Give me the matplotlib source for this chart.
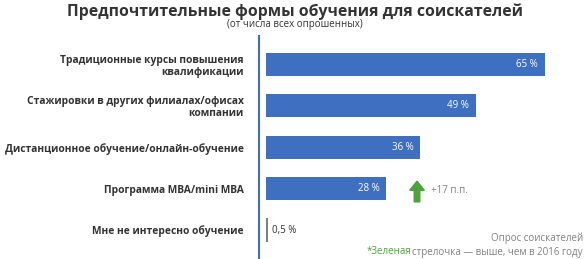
import matplotlib.pyplot as plt
from matplotlib.patches import FancyArrow

plt.rcParams['font.family'] = ['Open Sans', 'DejaVu Sans']

categories = [
    "Традиционные курсы повышения\nквалификации",
    "Стажировки в других филиалах/офисах\nкомпании",
    "Дистанционное обучение/онлайн-обучение",
    "Программа MBA/mini MBA",
    "Мне не интересно обучение",
]
values = [65, 49, 36, 28, 0.5]
value_labels = ["65 %", "49 %", "36 %", "28 %", "0,5 %"]
change_label = "+17 п.п."
change_index = 3

BLUE = "#3f6fc0"
GRAY = "#808080"
DARK = "#333333"
GREEN = "#4ea23a"

W, H = 588, 259
fig = plt.figure(figsize=(W / 100, H / 100), dpi=100)

# axes: left spine is the blue vertical line at x=259 px
ax = fig.add_axes([259 / W, 0, (W - 259) / W, (259 - 36) / H])
px_per_pct = 4.29
ax.set_xlim(-7 / px_per_pct, (W - 266) / px_per_pct)
step = 41.4
ax.set_ylim(4 + 29 / step, -28.5 / step)

for i, (v, lab) in enumerate(zip(values, value_labels)):
    if v >= 1:
        ax.barh(i, v, height=0.56, color=BLUE, edgecolor="none")
        ax.text(v - 1.6, i, lab, color="white", fontsize=7, ha="right", va="center")
    else:
        ax.barh(i, v, height=0.58, color=GRAY, edgecolor="none")
        ax.text(v + 0.9, i, lab, color=DARK, fontsize=7, ha="left", va="center")

for s in ["top", "right", "bottom"]:
    ax.spines[s].set_visible(False)
ax.spines["left"].set_color(BLUE)
ax.spines["left"].set_linewidth(1.5)
ax.set_xticks([])
ax.set_yticks(range(len(categories)))
ax.set_yticklabels(categories, fontsize=7.4, fontweight="bold", color=DARK,
                   linespacing=1.1)
ax.tick_params(axis="y", length=0, pad=11)

# green arrow next to MBA bar
ax.add_patch(FancyArrow(values[change_index] + 7.2, change_index + 0.32, 0, -0.5,
                        width=1.3, head_width=3.4, head_length=0.22,
                        color=GREEN, length_includes_head=True))
ax.text(values[change_index] + 10.4, change_index + 0.05, change_label,
        color=GRAY, fontsize=7, ha="left", va="center")

fig.text(295 / W, 1 - 12 / H, "Предпочтительные формы обучения для соискателей",
         ha="center", va="center", fontsize=11.3, fontweight="bold", color=DARK)
fig.text(295 / W, 1 - 25 / H, "(от числа всех опрошенных)",
         ha="center", va="center", fontsize=7, color=DARK)

fig.text(583 / W, 1 - 238 / H, "Опрос соискателей",
         ha="right", va="center", fontsize=7, color=GRAY)
foot = fig.text(583 / W, 1 - 252 / H, "стрелочка — выше, чем в 2016 году",
                ha="right", va="center", fontsize=7, color=GRAY)
fig.canvas.draw()
bb = foot.get_window_extent()
fig.text((bb.x0 - 1) / W, 1 - 252 / H, "*Зеленая", ha="right", va="center",
         fontsize=7, color=GREEN)

fig.savefig("out.png", dpi=100)
